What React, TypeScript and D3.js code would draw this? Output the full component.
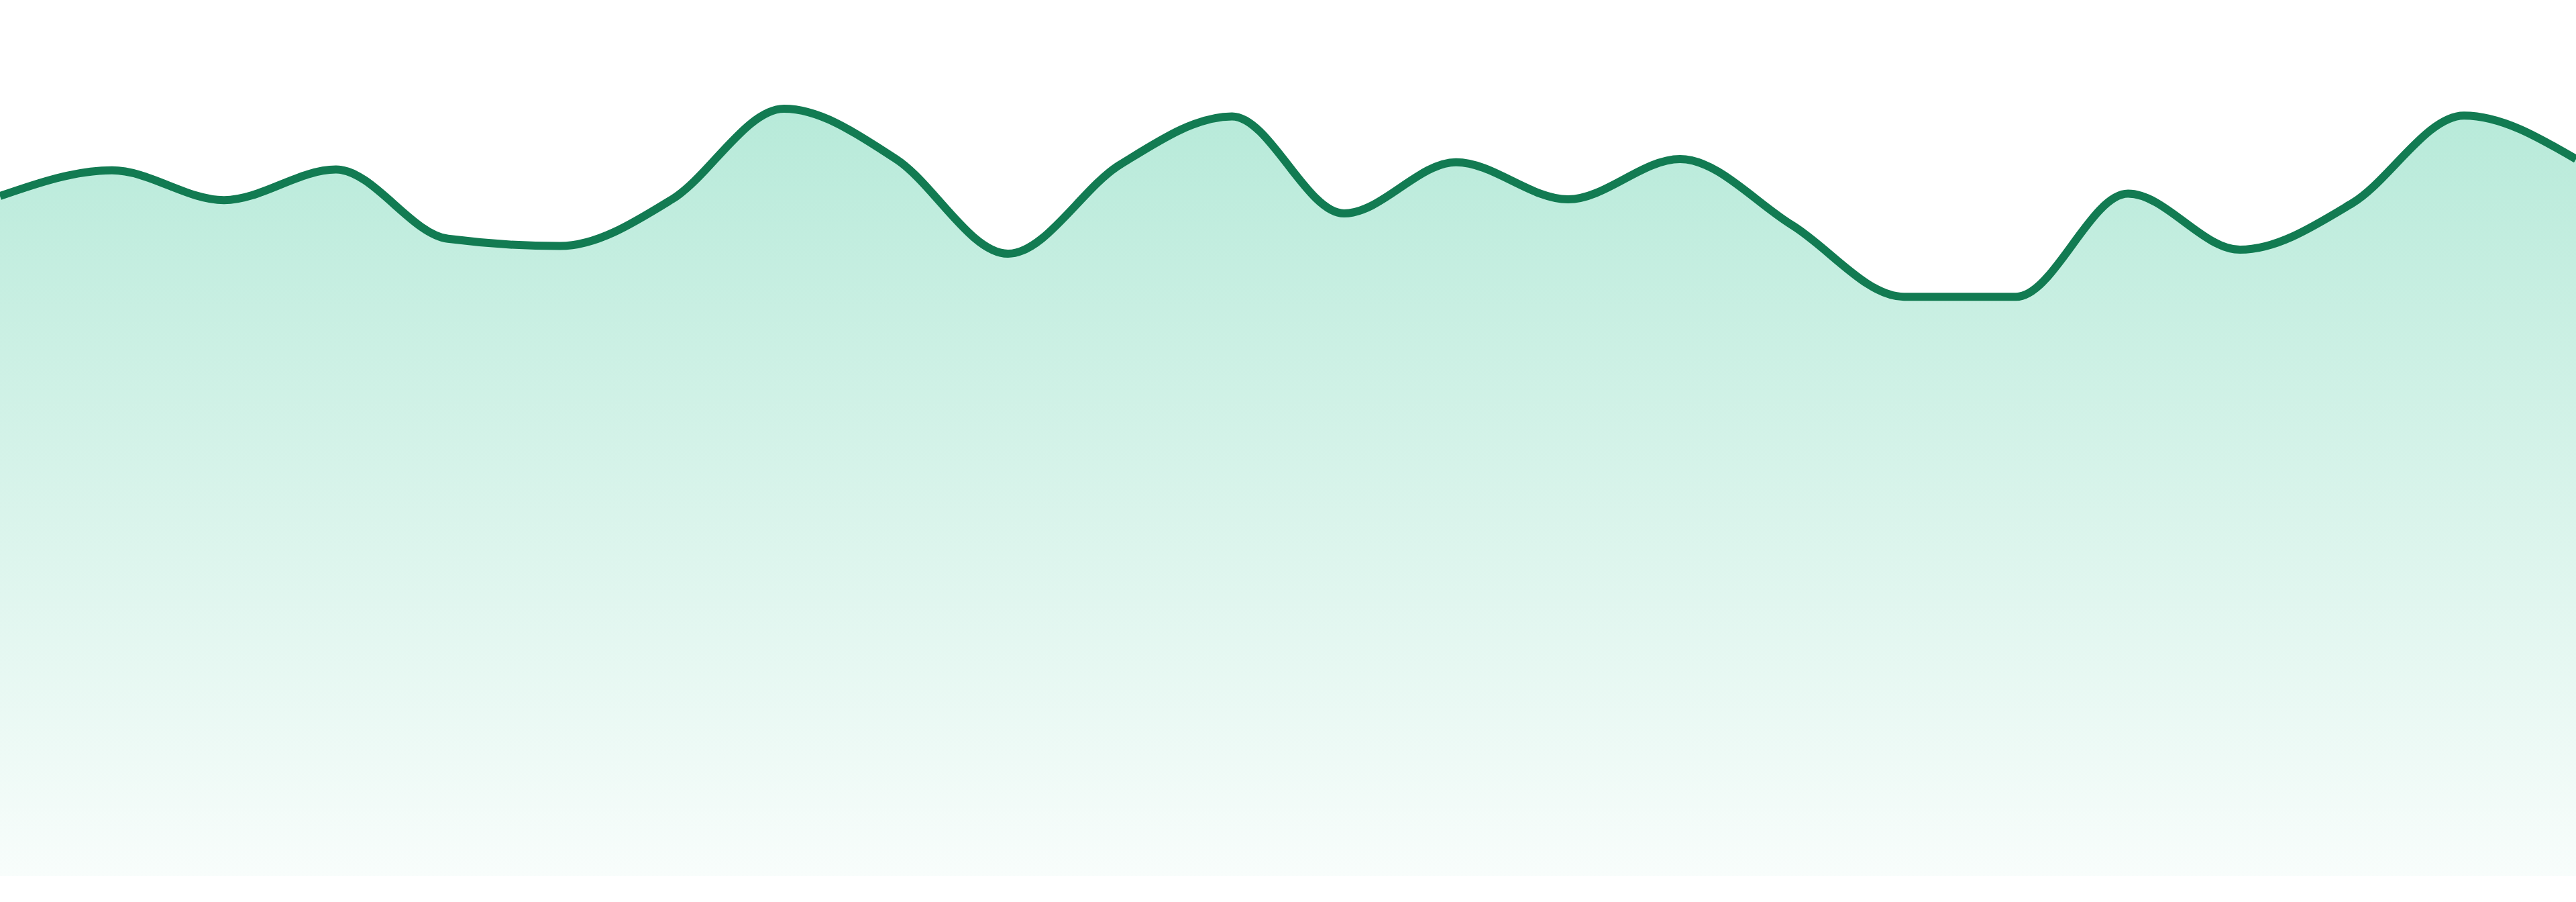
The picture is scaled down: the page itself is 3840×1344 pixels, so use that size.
import React, { useEffect, useRef } from 'react'
import * as d3 from 'd3'

// one value per step, evenly spaced across the full width
const steps = d3.range(24)
const values = [
    84.4, 87.6, 83.9, 87.7, 79.1, 78.2, 84.0, 95.25, 89.0, 77.25, 88.3, 94.3,
    82.25, 88.6, 84.0, 89.0, 80.8, 71.9, 71.9, 84.7, 77.75, 83.5, 94.4, 89.0,
]

const lineColor = '#127b52'
const fillColor = '#10b981'

const WIDTH = 3840
const HEIGHT = 1344

export default function App() {
    const svgRef = useRef<SVGSVGElement>(null)

    useEffect(() => {
        if (!svgRef.current) return
        const svg = d3.select(svgRef.current)
        svg.selectAll('*').remove()

        const x = d3.scaleLinear().domain([0, steps.length - 1]).range([0, WIDTH])
        const y = d3.scaleLinear().domain([0, 100]).range([1305, 105])

        const data = steps.map((s, i) => ({ s, v: values[i] }))

        const defs = svg.append('defs')
        const grad = defs.append('linearGradient')
            .attr('id', 'areaFill')
            .attr('x1', 0).attr('y1', 0)
            .attr('x2', 0).attr('y2', 1)
        grad.append('stop').attr('offset', '0%').attr('stop-color', fillColor).attr('stop-opacity', 0.3)
        grad.append('stop').attr('offset', '100%').attr('stop-color', fillColor).attr('stop-opacity', 0.03)

        const area = d3.area<{ s: number; v: number }>()
            .x(d => x(d.s))
            .y0(y(0))
            .y1(d => y(d.v))
            .curve(d3.curveMonotoneX)

        const line = d3.line<{ s: number; v: number }>()
            .x(d => x(d.s))
            .y(d => y(d.v))
            .curve(d3.curveMonotoneX)

        svg.append('path')
            .datum(data)
            .attr('d', area)
            .attr('fill', 'url(#areaFill)')

        svg.append('path')
            .datum(data)
            .attr('d', line)
            .attr('fill', 'none')
            .attr('stroke', lineColor)
            .attr('stroke-width', 12)
            .attr('stroke-linejoin', 'round')
    }, [])

    return (
        <svg
            ref={svgRef}
            width={WIDTH}
            height={HEIGHT}
            style={{ position: 'absolute', left: 0, top: 0, display: 'block' }}
        />
    )
}
